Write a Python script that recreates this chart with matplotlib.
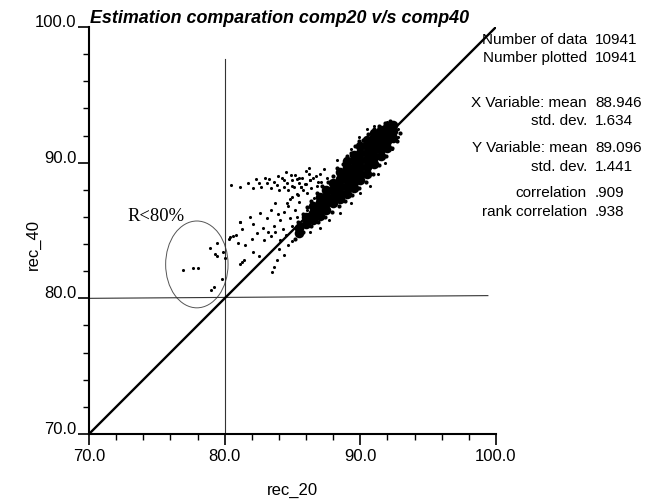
import matplotlib.pyplot as plt
from matplotlib.patches import Ellipse
from matplotlib.ticker import MultipleLocator

plt.rcParams['font.family'] = ['Liberation Sans', 'DejaVu Sans']

#------- data -----------------------------------------------------------------
# dense core of the cloud (drawn with bigger dots so it reads as solid)
core_x = [85.5, 85.5, 86.0, 86.0,
          86.5, 86.5, 86.5,
          87.0, 87.0, 87.0, 87.0,
          87.5, 87.5, 87.5, 87.5,
          88.0, 88.0, 88.0, 88.0,
          88.5, 88.5, 88.5, 88.5, 88.5,
          89.0, 89.0, 89.0, 89.0, 89.0, 89.0,
          89.5, 89.5, 89.5, 89.5, 89.5, 89.5,
          90.0, 90.0, 90.0, 90.0, 90.0, 90.0,
          90.5, 90.5, 90.5, 90.5, 90.5, 90.5,
          91.0, 91.0, 91.0, 91.0, 91.0, 91.0,
          91.5, 91.5, 91.5, 91.5, 91.5,
          92.0, 92.0, 92.0, 92.0,
          92.4, 92.4, 92.4]
core_y = [84.8, 85.2, 85.5, 86.0,
          85.8, 86.3, 86.8,
          86.1, 86.6, 87.1, 87.5,
          86.5, 87.0, 87.5, 88.0,
          87.0, 87.5, 88.0, 88.5,
          87.3, 87.8, 88.3, 88.8, 89.3,
          87.7, 88.2, 88.7, 89.2, 89.7, 90.1,
          88.1, 88.6, 89.1, 89.6, 90.1, 90.6,
          88.7, 89.2, 89.7, 90.2, 90.7, 91.2,
          89.2, 89.7, 90.2, 90.7, 91.2, 91.7,
          89.9, 90.4, 90.9, 91.4, 91.9, 92.2,
          90.5, 91.0, 91.5, 92.0, 92.4,
          91.1, 91.6, 92.1, 92.6,
          91.8, 92.3, 92.8]

# points hugging the edges of the core
edge_x = [85.4, 85.8, 86.1, 86.4, 86.8, 87.2, 87.6, 88.0, 88.3, 88.7, 89.0, 89.3,
          89.6, 89.9, 90.2, 90.6, 91.0, 91.4, 91.8, 92.2,
          85.2, 85.8, 86.4, 86.9, 87.4, 87.9, 88.4, 88.9, 89.4, 89.9, 90.4, 90.9,
          91.4, 91.9, 92.3, 92.7, 92.9]
edge_y = [85.6, 86.2, 86.7, 87.2, 87.8, 88.3, 88.6, 89.0, 89.6, 89.9, 90.5, 90.7,
          91.2, 91.6, 91.7, 92.1, 92.5, 92.7, 92.9, 93.1,
          84.4, 84.9, 85.3, 85.6, 86.0, 86.4, 86.8, 87.2, 87.6, 88.1, 88.6, 89.2,
          89.8, 90.5, 91.1, 91.6, 92.2]

# single scattered points around the cloud
rec_20 = [85.6, 86.3, 87.3, 88.3, 89.3, 89.9, 90.5, 91.0, 92.0, 92.4, 92.8,
          92.8, 92.3, 91.8, 91.3, 90.7, 90.0, 89.3, 88.5, 87.7, 87.0, 86.3,
          80.5, 81.1, 81.7, 82.1, 82.5, 82.7, 83.1, 83.4, 83.6, 83.85, 84.0,
          84.2, 84.35, 84.6, 84.7, 84.96, 85.1, 85.2, 85.45, 85.7, 85.8, 85.9,
          86.2, 86.3, 86.4, 86.7, 86.9, 87.05, 87.3, 87.55,
          83.3, 83.9, 84.4, 84.9, 85.3, 85.6, 86.0, 86.6, 86.1, 85.4, 84.8,
          85.0, 85.5, 86.0, 86.5, 86.8, 87.1, 84.5, 85.3, 86.2, 83.0, 82.3,
          81.1, 81.9, 82.1, 82.6, 83.1, 83.4, 83.6, 83.7, 84.1, 84.35, 84.6,
          84.8, 84.96, 85.2, 85.45, 80.4, 80.8, 81.0, 81.5, 82.0, 82.4, 82.9,
          83.4, 83.7, 84.1, 84.5, 84.7, 82.1, 82.5, 81.4, 81.1, 84.0, 84.35,
          83.85, 83.5, 83.6, 84.96, 85.6, 85.9, 86.1, 86.3,
          83.9, 84.3, 84.7, 85.0, 85.3, 82.8, 83.2,
          76.9, 77.7, 78.0, 78.9, 79.4, 79.4, 79.3, 79.2, 79.0, 79.8, 79.9, 80.0,
          80.3, 80.6, 81.1, 81.3, 81.3]
rec_40 = [88.2, 88.7, 89.5, 90.2, 91.0, 91.9, 92.5, 92.7, 93.0, 92.9, 92.5,
          91.9, 91.0, 90.0, 89.2, 88.3, 87.8, 87.0, 86.3, 85.8, 85.2, 84.9,
          88.36, 88.2, 88.5, 88.1, 88.49, 88.24, 88.49, 88.12, 88.61, 88.37, 88.0,
          88.86, 88.24, 88.49, 88.0, 88.73, 88.24, 89.1, 88.49, 88.86, 88.0, 88.4,
          89.2, 88.7, 88.1, 89.0, 88.6, 89.2, 88.2, 88.9,
          88.8, 89.0, 88.7, 89.1, 88.8, 88.2, 89.4, 87.4, 87.8, 87.6, 87.3,
          88.3, 88.9, 88.4, 88.9, 88.3, 88.6, 89.3, 87.7, 89.6, 88.9, 88.8,
          85.66, 86.03, 85.5, 86.3, 85.9, 86.5, 85.3, 87.0, 85.8, 86.4, 87.0,
          85.9, 87.5, 86.5, 87.1, 84.55, 84.7, 84.06, 83.9, 84.4, 84.8, 84.3,
          84.6, 84.9, 84.3, 84.7, 83.9, 83.45, 83.1, 82.8, 82.5, 83.6, 83.2,
          82.8, 81.97, 82.3, 85.3, 85.5, 86.0, 86.5, 86.8,
          86.2, 85.1, 86.8, 84.2, 86.0, 85.2, 84.9,
          82.1, 82.2, 82.2, 83.7, 84.1, 83.1, 83.3, 80.8, 80.6, 81.4, 83.4, 83.0,
          84.4, 84.6, 85.6, 85.1, 82.7]

ticks = [70, 80, 90, 100]
tick_labels = ['70.0', '80.0', '90.0', '100.0']

stat_names = ['Number of data', 'Number plotted', 'X Variable: mean', 'std. dev.',
              'Y Variable: mean', 'std. dev.', 'correlation', 'rank correlation']
stat_values = ['10941', '10941', '88.946', '1.634', '89.096', '1.441', '.909', '.938']
stat_rows = [40, 58, 103, 121, 148, 167, 193, 212]   # pixel rows from the top

#------- figure ---------------------------------------------------------------
fig = plt.figure(figsize=(6.58, 5), dpi=100)
ax = fig.add_axes([89 / 658, 66 / 500, 407 / 658, 407 / 500])
ax.set_xlim(70, 100)
ax.set_ylim(70, 100)

for side in ['top', 'right']:
    ax.spines[side].set_visible(False)
for side in ['left', 'bottom']:
    ax.spines[side].set_linewidth(1.5)

ax.set_xticks(ticks)
ax.set_xticklabels(tick_labels)
ax.set_yticks(ticks)
ax.set_yticklabels(tick_labels)
ax.xaxis.set_minor_locator(MultipleLocator(2))
ax.yaxis.set_minor_locator(MultipleLocator(2))
ax.tick_params(which='major', length=8, width=1.2, labelsize=12, direction='out')
ax.tick_params(which='minor', length=4, width=1.0, direction='out')
ax.tick_params(axis='x', which='major', pad=3)
ax.tick_params(axis='y', which='major', pad=1)
for lab in ax.get_yticklabels():
    lab.set_verticalalignment('baseline')

# reference lines
ax.plot([70, 100], [70, 100], color='black', lw=1.7, zorder=3)
ax.plot([80, 80], [70, 97.65], color='#333333', lw=0.8, zorder=2)
ax.plot([70, 99.4], [80, 80.2], color='#333333', lw=0.8, zorder=2)

# the data cloud
ax.scatter(core_x, core_y, s=48, c='black', linewidths=0, zorder=4)
ax.scatter(edge_x, edge_y, s=9, c='black', linewidths=0, zorder=4)
ax.scatter(rec_20, rec_40, s=5, c='black', linewidths=0, zorder=4)

# low recovery zone
ellipse = Ellipse((77.95, 82.5), 4.6, 6.4, edgecolor='#555555', fc='none', lw=0.7)
ax.add_patch(ellipse)
ax.text(72.8, 86.0, 'R<80%', family='Liberation Serif', fontsize=13.4, va='center')

ax.set_xlabel('rec_20', fontsize=12, va='center')
ax.xaxis.set_label_coords(203 / 407, -56 / 407)
ax.set_ylabel('rec_40', fontsize=12, va='center')
ax.yaxis.set_label_coords(-56 / 407, (434 - 245) / 407)

fig.text(90 / 658, 1 - 23 / 500, 'Estimation comparation comp20 v/s comp40',
         fontsize=12.9, fontweight='bold', fontstyle='italic', va='baseline')

for name, value, row in zip(stat_names, stat_values, stat_rows):
    fig.text(587 / 658, 1 - row / 500, name, fontsize=11, ha='right', va='center')
    fig.text(595 / 658, 1 - row / 500, value, fontsize=11, ha='left', va='center')

fig.savefig('out.png', dpi=100)
